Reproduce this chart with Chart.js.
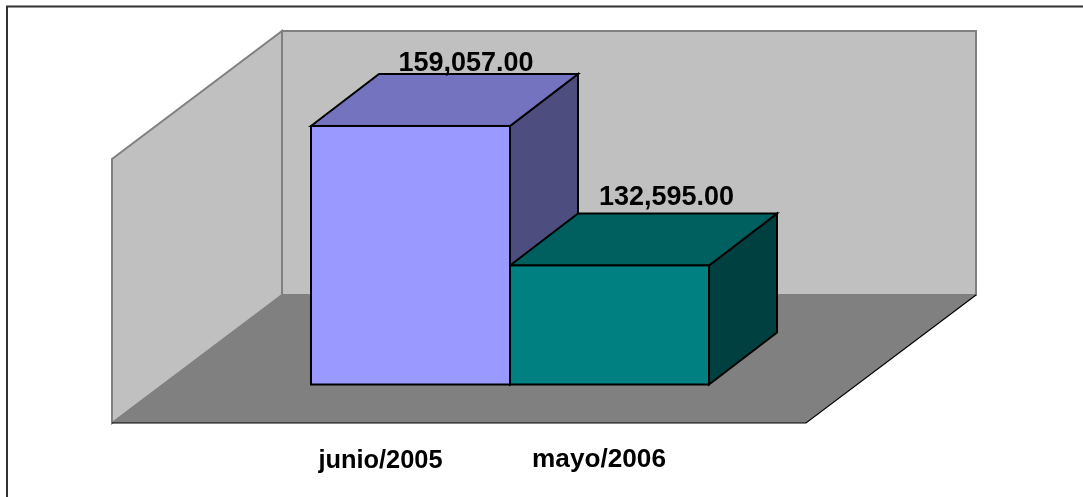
<!DOCTYPE html>
<html>
<head>
<meta charset="utf-8">
<style>html,body{margin:0;padding:0;background:#fff;overflow:hidden}canvas{display:block}</style>
<script src="https://cdn.jsdelivr.net/npm/chart.js@4"></script>
</head>
<body>
<canvas id="c" width="1083" height="497"></canvas>
<script>
const categories = ["junio/2005", "mayo/2006"];
const values = [159057, 132595];
const valueLabels = ["159,057.00", "132,595.00"];
const frontColors = ["#9999FF", "#008080"];
const topColors = ["#7373BF", "#006060"];
const sideColors = ["#4D4D80", "#004040"];
const axisMin = 110000;
const axisMax = 160000;

// projection of the 3D box, relative to the chart area
const depthX = 68, depthY = -52;
const valueOffsetX = [55.5, 57], valueOffsetY = [-55, -60];
const categoryOffsetX = [-30, -10.5];
const categoryBaseline = [468, 467];
const categoryFontSize = [25.4, 26.2];

function poly(ctx, pts, fill, stroke, lw) {
  ctx.beginPath();
  pts.forEach((p, i) => i ? ctx.lineTo(p[0], p[1]) : ctx.moveTo(p[0], p[1]));
  ctx.closePath();
  if (fill) { ctx.fillStyle = fill; ctx.fill(); }
  if (stroke) { ctx.strokeStyle = stroke; ctx.lineWidth = lw; ctx.lineJoin = "miter"; ctx.stroke(); }
}

const box3d = {
  id: "box3d",
  beforeDatasetsDraw(chart) {
    const ctx = chart.ctx, a = chart.chartArea;
    ctx.save();
    // frame (left and top only are visible)
    ctx.strokeStyle = "#333333"; ctx.lineWidth = 2;
    ctx.beginPath(); ctx.moveTo(7, 497); ctx.lineTo(7, 6.5); ctx.lineTo(1083, 6.5); ctx.stroke();

    const L = a.left - 199, R = a.right + 97, B = a.bottom + 38.5;
    const wallTop = 159, dx = 170, dy = -128;
    // left wall
    poly(ctx, [[L, wallTop], [L + dx, wallTop + dy], [L + dx, B + dy], [L, B]], "#C0C0C0", "#808080", 2);
    // back wall
    poly(ctx, [[L + dx, wallTop + dy], [R + dx, wallTop + dy], [R + dx, B + dy], [L + dx, B + dy]], "#C0C0C0", "#808080", 2);
    // floor
    poly(ctx, [[L, B], [L + dx, B + dy], [R + dx, B + dy], [R, B]], "#808080");
    ctx.strokeStyle = "#000"; ctx.lineWidth = 1.2;
    ctx.beginPath(); ctx.moveTo(L, B); ctx.lineTo(R, B); ctx.lineTo(R + dx, B + dy); ctx.stroke();

    // top and side faces
    const els = chart.getDatasetMeta(0).data;
    const b = chart.scales.y.getPixelForValue(axisMin);
    els.forEach((el, i) => {
      const x0 = el.x - el.width / 2, x1 = el.x + el.width / 2, y = el.y;
      poly(ctx, [[x1, y], [x1 + depthX, y + depthY], [x1 + depthX, b + depthY], [x1, b]], sideColors[i], "#000", 2);
      poly(ctx, [[x0, y], [x0 + depthX, y + depthY], [x1 + depthX, y + depthY], [x1, y]], topColors[i], "#000", 2);
    });
    ctx.restore();
  },
  afterDatasetsDraw(chart) {
    const ctx = chart.ctx;
    ctx.save();
    const els = chart.getDatasetMeta(0).data;
    const b = chart.scales.y.getPixelForValue(axisMin);
    els.forEach((el) => {
      const x0 = el.x - el.width / 2;
      ctx.strokeStyle = "#000"; ctx.lineWidth = 2;
      ctx.strokeRect(x0, el.y, el.width, b - el.y);
    });
    ctx.fillStyle = "#000";
    ctx.textAlign = "center"; ctx.textBaseline = "alphabetic";
    ctx.font = 'bold 27px "Liberation Sans", Arial, sans-serif';
    els.forEach((el, i) => ctx.fillText(valueLabels[i], el.x + valueOffsetX[i], el.y + valueOffsetY[i]));
    els.forEach((el, i) => {
      ctx.font = 'bold ' + categoryFontSize[i] + 'px "Liberation Sans", Arial, sans-serif';
      ctx.fillText(categories[i], el.x + categoryOffsetX[i], categoryBaseline[i]);
    });
    ctx.restore();
  }
};

new Chart(document.getElementById("c"), {
  type: "bar",
  data: {
    labels: categories,
    datasets: [{
      data: values,
      backgroundColor: frontColors,
      borderWidth: 0,
      barPercentage: 1,
      categoryPercentage: 1
    }]
  },
  options: {
    responsive: false,
    animation: false,
    layout: { padding: { left: 311, right: 374, top: 121, bottom: 112.5 } },
    plugins: { legend: { display: false }, tooltip: { enabled: false }, title: { display: false } },
    scales: {
      x: { display: false, grid: { display: false } },
      y: { display: false, min: axisMin, max: axisMax, grid: { display: false } }
    }
  },
  plugins: [box3d]
});
</script>
</body>
</html>
